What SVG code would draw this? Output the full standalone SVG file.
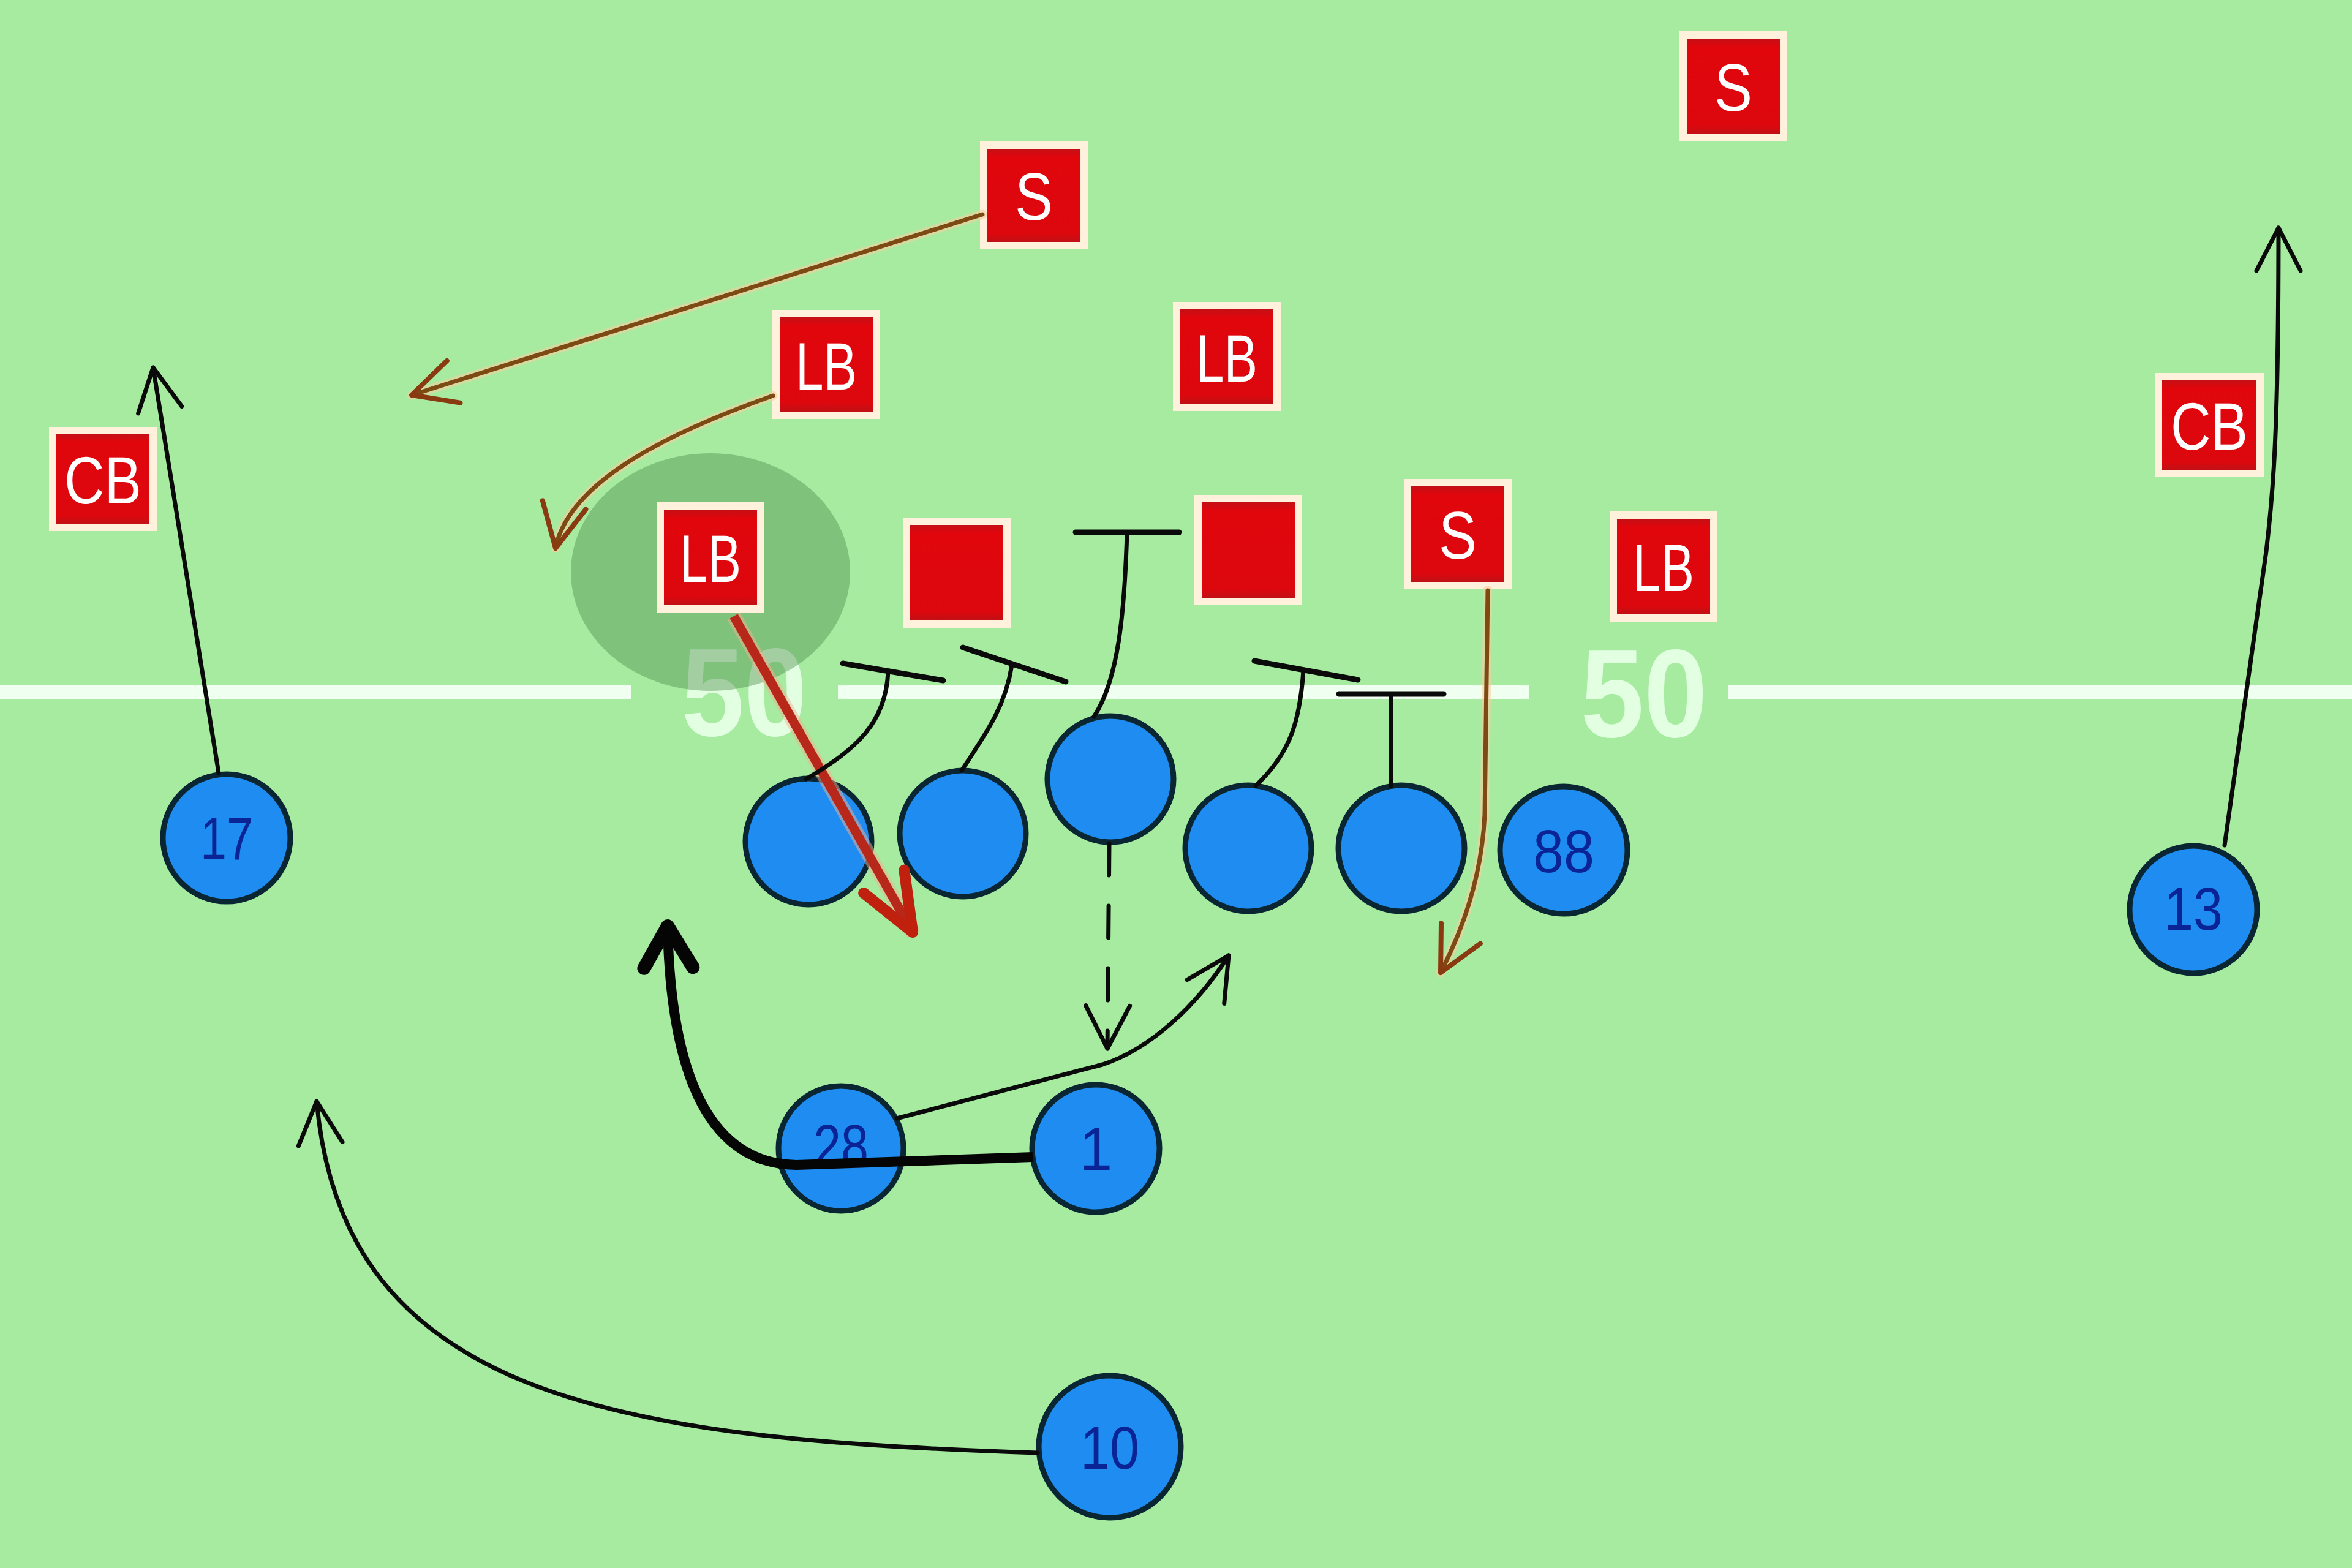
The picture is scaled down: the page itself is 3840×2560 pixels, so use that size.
<svg xmlns="http://www.w3.org/2000/svg" width="3840" height="2560" viewBox="0 0 3840 2560">
<style>
.field{fill:#a6eba0}
.yard{stroke:#effff0;stroke-width:22;fill:none}
.num{font-family:"Liberation Sans",Arial,sans-serif;font-weight:bold;font-size:205px;fill:#e2ffe2;text-anchor:middle}
.def rect{fill:url(#redg);stroke:#fff1db;stroke-width:12}
.def text{font-family:"Liberation Sans",Arial,sans-serif;font-size:110px;fill:#ffffff;text-anchor:middle}
.off circle{fill:#1e8cf0;stroke:#0b2633;stroke-width:9}
.off text{font-family:"Liberation Sans",Arial,sans-serif;font-size:98px;fill:#0a2496;text-anchor:middle}
.blk{stroke:#0a0a0a;stroke-width:7;fill:none;stroke-linecap:round;stroke-linejoin:round}
.bar{stroke:#0a0a0a;stroke-width:9;fill:none;stroke-linecap:round}
.brown{stroke:#7c4a12;stroke-width:7;fill:none;stroke-linecap:round}
.halo{stroke:#f7cfa0;stroke-width:15;fill:none;opacity:0.6;stroke-linecap:round}
</style>
<defs>
<linearGradient id="redg" x1="0" y1="0" x2="0" y2="1">
<stop offset="0" stop-color="#b8141a"/>
<stop offset="0.12" stop-color="#e0060c"/>
<stop offset="0.88" stop-color="#dc080e"/>
<stop offset="1" stop-color="#b41418"/>
</linearGradient>
<marker id="ablk" markerUnits="userSpaceOnUse" viewBox="-90 -50 100 100" refX="0" refY="0" markerWidth="100" markerHeight="100" orient="auto" overflow="visible">
<path d="M-70 -36 L0 0 L-70 36" fill="none" stroke="#0a0a0a" stroke-width="7" stroke-linecap="round" stroke-linejoin="round"/>
</marker>
<marker id="abrn" markerUnits="userSpaceOnUse" viewBox="-90 -50 100 100" refX="0" refY="0" markerWidth="100" markerHeight="100" orient="auto" overflow="visible">
<path d="M-72 -36 L0 0 L-72 36" fill="none" stroke="#8a3a10" stroke-width="8" stroke-linecap="round" stroke-linejoin="round"/>
</marker>
<marker id="athick" markerUnits="userSpaceOnUse" viewBox="-100 -60 110 120" refX="0" refY="0" markerWidth="110" markerHeight="120" orient="auto" overflow="visible">
<path d="M-68 -40 L0 0 L-68 40" fill="none" stroke="#050505" stroke-width="22" stroke-linecap="round" stroke-linejoin="round"/>
</marker>
<marker id="ared" markerUnits="userSpaceOnUse" viewBox="-110 -60 120 120" refX="0" refY="0" markerWidth="120" markerHeight="120" orient="auto" overflow="visible">
<path d="M-95 -38 L0 0 L-95 38" fill="none" stroke="#c0200e" stroke-width="18" stroke-linecap="round" stroke-linejoin="round"/>
</marker>
</defs>

<g id="field">
<rect class="field" x="0" y="0" width="3840" height="2560"/>
<line class="yard" x1="0" y1="1130" x2="1030" y2="1130"/>
<line class="yard" x1="1368" y1="1130" x2="2496" y2="1130"/>
<line class="yard" x1="2822" y1="1130" x2="3840" y2="1130"/>
<text class="num" x="1215" y="1201" textLength="205" lengthAdjust="spacingAndGlyphs">50</text>
<text class="num" x="2684" y="1203" textLength="207" lengthAdjust="spacingAndGlyphs">50</text>
<ellipse id="highlight" cx="1160" cy="934" rx="228" ry="194" fill="#4a8a4a" opacity="0.42"/>
</g>

<g id="defense">
<g id="d-s-deep" class="def"><rect x="2748" y="57" width="164" height="168"/><text x="2830" y="181" textLength="62" lengthAdjust="spacingAndGlyphs">S</text></g>
<g id="d-s-left" class="def"><rect x="1606" y="237" width="164" height="164"/><text x="1688" y="359" textLength="62" lengthAdjust="spacingAndGlyphs">S</text></g>
<g id="d-lb-1" class="def"><rect x="1267" y="512" width="164" height="166"/><text x="1349" y="636" textLength="100" lengthAdjust="spacingAndGlyphs">LB</text></g>
<g id="d-lb-2" class="def"><rect x="1921" y="499" width="164" height="166"/><text x="2003" y="623" textLength="100" lengthAdjust="spacingAndGlyphs">LB</text></g>
<g id="d-cb-left" class="def"><rect x="86" y="703" width="164" height="158"/><text x="168" y="822" textLength="126" lengthAdjust="spacingAndGlyphs">CB</text></g>
<g id="d-cb-right" class="def"><rect x="3524" y="615" width="166" height="158"/><text x="3607" y="734" textLength="126" lengthAdjust="spacingAndGlyphs">CB</text></g>
<g id="d-lb-blitz" class="def"><rect x="1078" y="826" width="164" height="168"/><text x="1160" y="950" textLength="100" lengthAdjust="spacingAndGlyphs">LB</text></g>
<g id="d-dl-1" class="def"><rect x="1480" y="851" width="164" height="168"/></g>
<g id="d-dl-2" class="def"><rect x="1956" y="814" width="164" height="168"/></g>
<g id="d-s-box" class="def"><rect x="2298" y="788" width="164" height="168"/><text x="2380" y="912" textLength="62" lengthAdjust="spacingAndGlyphs">S</text></g>
<g id="d-lb-3" class="def"><rect x="2634" y="841" width="164" height="168"/><text x="2716" y="965" textLength="100" lengthAdjust="spacingAndGlyphs">LB</text></g>
</g>

<g id="offense">
<g id="o-17" class="off"><circle cx="370" cy="1368" r="104"/><text x="370" y="1403" textLength="86" lengthAdjust="spacingAndGlyphs">17</text></g>
<g id="o-lt" class="off"><circle cx="1320" cy="1374" r="103"/></g>
<g id="o-lg" class="off"><circle cx="1572" cy="1361" r="103"/></g>
<g id="o-c" class="off"><circle cx="1813" cy="1272" r="103"/></g>
<g id="o-rg" class="off"><circle cx="2038" cy="1385" r="103"/></g>
<g id="o-rt" class="off"><circle cx="2288" cy="1385" r="103"/></g>
<g id="o-88" class="off"><circle cx="2553" cy="1388" r="104"/><text x="2553" y="1424" textLength="100" lengthAdjust="spacingAndGlyphs">88</text></g>
<g id="o-13" class="off"><circle cx="3581" cy="1485" r="104"/><text x="3581" y="1518" textLength="96" lengthAdjust="spacingAndGlyphs">13</text></g>
<g id="o-28" class="off"><circle cx="1373" cy="1875" r="102" fill="#3a8ee6"/><text x="1373" y="1905" textLength="90" lengthAdjust="spacingAndGlyphs">28</text></g>
<g id="o-1" class="off"><circle cx="1789" cy="1875" r="104"/><text x="1789" y="1910">1</text></g>
<g id="o-10" class="off"><circle cx="1812" cy="2362" r="116"/><text x="1812" y="2398" textLength="96" lengthAdjust="spacingAndGlyphs">10</text></g>
</g>

<g id="connectors">
<path class="halo" d="M1604 350 L672 645"/>
<path class="brown" d="M1604 350 L672 645" marker-end="url(#abrn)"/>
<path class="halo" d="M1262 646 C1110 700 930 780 907 895"/>
<path class="brown" d="M1262 646 C1110 700 930 780 907 895" marker-end="url(#abrn)"/>
<path class="halo" d="M2429 964 L2424 1330 Q2418 1460 2352 1588"/>
<path class="brown" d="M2429 964 L2424 1330 Q2418 1460 2352 1588" stroke="#9a5a16" marker-end="url(#abrn)"/>
<path d="M1198 1006 L1492 1525" stroke="#f3b090" stroke-width="24" opacity="0.5" fill="none"/>
<path d="M1198 1006 L1490 1522" stroke="#b8281a" stroke-width="15" fill="none" marker-end="url(#ared)"/>

<path class="blk" d="M1316 1272 C1400 1222 1446 1180 1450 1097"/>
<path class="bar" d="M1376 1083 L1540 1111"/>
<path class="blk" d="M1570 1258 C1615 1190 1642 1150 1652 1086"/>
<path class="bar" d="M1572 1057 L1740 1113"/>
<path class="blk" d="M1786 1170 C1826 1110 1836 1000 1840 869"/>
<path class="bar" d="M1756 869 L1925 869"/>
<path class="blk" d="M2050 1283 C2106 1230 2122 1180 2128 1095"/>
<path class="bar" d="M2048 1079 L2217 1110"/>
<path class="blk" d="M2271 1283 L2271 1133"/>
<path class="bar" d="M2186 1133 L2357 1133"/>

<path class="blk" d="M1811 1377 L1808 1712" stroke-dasharray="52 50" stroke-linecap="butt" marker-end="url(#ablk)"/>
<path class="blk" d="M1464 1826 L1800 1738 C1880 1712 1955 1640 2006 1560" marker-end="url(#ablk)"/>
<path d="M1686 1889 L1300 1902 C1160 1900 1095 1760 1090 1512" stroke="#050505" stroke-width="16" fill="none" stroke-linejoin="round" marker-end="url(#athick)"/>
<path class="blk" d="M1694 2372 C1000 2350 560 2280 517 1798" marker-end="url(#ablk)"/>
<path class="blk" d="M357 1262 L250 600" marker-end="url(#ablk)"/>
<path class="blk" d="M3632 1380 L3700 900 C3712 800 3720 700 3720 372" marker-end="url(#ablk)"/>
</g>
</svg>
